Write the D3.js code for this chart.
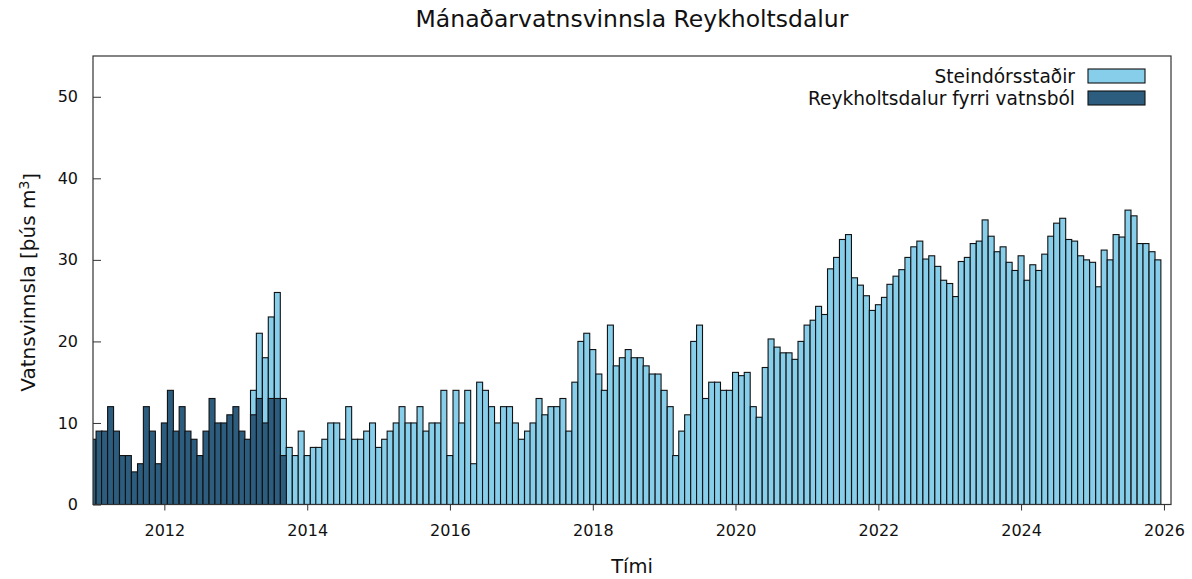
<!DOCTYPE html>
<html>
<head>
<meta charset="utf-8">
<script src="https://cdn.jsdelivr.net/npm/d3@7"></script>
<style>
  body { margin: 0; background: #fff; }
  text { font-family: "DejaVu Sans", sans-serif; fill: #111; }
</style>
</head>
<body>
<svg id="chart" width="1192" height="579"></svg>
<script>
// monthly values, thús m3
const firstMonthOld = new Date(2011, 0, 1);   // Reykholtsdalur fyrri vatnsból starts Jan 2011
const oldSource = [
  8, 9, 9, 12, 9, 6, 6, 4, 5, 12, 9, 5,
  10, 14, 9, 12, 9, 8, 6, 9, 13, 10, 10, 11,
  12, 9, 8, 11, 13, 10, 13, 13, 6
];

const firstMonthNew = new Date(2013, 3, 1);   // Steindórsstaðir starts Apr 2013
const newSource = [
  14, 21, 18, 23, 26, 13, 7, 6, 9,
  6, 7, 7, 8, 10, 10, 8, 12, 8, 8, 9, 10,
  7, 8, 9, 10, 12, 10, 10, 12, 9, 10, 10, 14,
  6, 14, 10, 14, 5, 15, 14, 12, 10, 12, 12, 10,
  8, 9, 10, 13, 11, 12, 12, 13, 9, 15, 20, 21,
  19, 16, 14, 22, 17, 18, 19, 18, 18, 17, 16, 16,
  14, 12, 6, 9, 11, 20, 22, 13, 15, 15, 14, 14,
  16.2, 15.8, 16.2, 12, 10.7, 16.8, 20.3, 19.3, 18.6, 18.6, 17.8, 20,
  22, 22.6, 24.3, 23.3, 28.9, 30.3, 32.5, 33.1, 27.8, 26.9, 25.6, 23.8,
  24.5, 25.4, 27, 28, 28.8, 30.3, 31.6, 32.3, 30.1, 30.5, 29.2, 27.5,
  27.1, 25.5, 29.8, 30.3, 32, 32.3, 34.9, 32.9, 31, 31.6, 29.7, 28.7,
  30.5, 27.5, 29.4, 28.7, 30.7, 32.9, 34.5, 35.1, 32.5, 32.3, 30.5, 30,
  29.7, 26.7, 31.2, 30, 33.1, 32.8, 36.1, 35.4, 32, 32, 31, 30
];

const seriesNames = ['Steindórsstaðir', 'Reykholtsdalur fyrri vatnsból'];
const seriesColors = ['#87ceeb', '#2c5d7f'];
const yTicks = [0, 10, 20, 30, 40, 50];
const xTickYears = [2012, 2014, 2016, 2018, 2020, 2022, 2024, 2026];

const toRows = (start, values) => values.map((v, i) => ({ date: d3.timeMonth.offset(start, i), value: v }));
const newRows = toRows(firstMonthNew, newSource);
const oldRows = toRows(firstMonthOld, oldSource);

const svg = d3.select('#chart');
const plotL = 93, plotR = 1171, plotT = 56, plotB = 504.5;

const x = d3.scaleTime()
  .domain([new Date(2011, 0, 1), new Date(2026, 1, 6)])
  .range([plotL, plotR]);
const y = d3.scaleLinear().domain([0, 55]).range([plotB, plotT]);

const barW = (x(new Date(2026, 0, 1)) - x(new Date(2011, 0, 1))) / 180;

svg.append('clipPath').attr('id', 'plotclip')
  .append('rect')
  .attr('x', plotL).attr('y', plotT)
  .attr('width', plotR - plotL).attr('height', plotB - plotT);

const bars = svg.append('g').attr('clip-path', 'url(#plotclip)');

function drawBars(rows, color) {
  bars.append('g')
    .selectAll('rect')
    .data(rows)
    .enter()
    .append('rect')
    .attr('x', d => x(d.date) - barW / 2)
    .attr('width', barW)
    .attr('y', d => y(d.value))
    .attr('height', d => y(0) - y(d.value))
    .attr('fill', color)
    .attr('stroke', '#111')
    .attr('stroke-width', 1.1);
}
drawBars(newRows, seriesColors[0]);
drawBars(oldRows, seriesColors[1]);

// y axis, ticks pointing in
const yAxis = svg.append('g')
  .attr('transform', `translate(${plotL},0)`)
  .call(d3.axisRight(y).tickValues(yTicks).tickSize(8).tickFormat(''));
yAxis.select('.domain').remove();
yAxis.selectAll('line').attr('stroke', '#333');
svg.append('g').selectAll('text')
  .data(yTicks)
  .enter()
  .append('text')
  .attr('x', plotL - 15)
  .attr('y', d => y(d))
  .attr('dy', '0.35em')
  .attr('text-anchor', 'end')
  .style('font-size', '16px')
  .text(d => d);

// x axis, ticks pointing out
const xAxis = svg.append('g')
  .attr('transform', `translate(0,${plotB})`)
  .call(d3.axisBottom(x)
    .tickValues(xTickYears.map(yr => new Date(yr, 0, 1)))
    .tickSize(6)
    .tickPadding(14)
    .tickFormat(d3.timeFormat('%Y')));
xAxis.select('.domain').remove();
xAxis.selectAll('line').attr('stroke', '#333');
xAxis.selectAll('text')
  .style('font-family', '"DejaVu Sans", sans-serif')
  .style('font-size', '16px')
  .attr('fill', '#111');

// frame
svg.append('rect')
  .attr('x', plotL).attr('y', plotT)
  .attr('width', plotR - plotL).attr('height', plotB - plotT)
  .attr('fill', 'none')
  .attr('stroke', '#333')
  .attr('stroke-width', 1.2);

// title and axis labels
svg.append('text')
  .attr('x', 632).attr('y', 27)
  .attr('text-anchor', 'middle')
  .style('font-size', '23.5px')
  .text('Mánaðarvatnsvinnsla Reykholtsdalur');

svg.append('text')
  .attr('x', 632).attr('y', 573)
  .attr('text-anchor', 'middle')
  .style('font-size', '19.5px')
  .text('Tími');

const ylab = svg.append('text')
  .attr('transform', `translate(35,${(plotT + plotB) / 2 + 2}) rotate(-90)`)
  .attr('text-anchor', 'middle')
  .style('font-size', '20px');
ylab.append('tspan').text('Vatnsvinnsla [þús m');
ylab.append('tspan').attr('dy', '-0.45em').style('font-size', '14px').text('3');
ylab.append('tspan').attr('dy', '0.45em').text(']');

// legend
const legend = svg.append('g')
  .selectAll('g')
  .data(seriesNames)
  .enter()
  .append('g')
  .attr('transform', (d, i) => `translate(0,${76 + i * 22})`);
legend.append('text')
  .attr('x', 1075)
  .attr('dy', '0.35em')
  .attr('text-anchor', 'end')
  .style('font-size', '18.6px')
  .text(d => d);
legend.append('rect')
  .attr('x', 1088).attr('y', -7)
  .attr('width', 57).attr('height', 14)
  .attr('fill', (d, i) => seriesColors[i])
  .attr('stroke', '#111')
  .attr('stroke-width', 1.1);
</script>
</body>
</html>
